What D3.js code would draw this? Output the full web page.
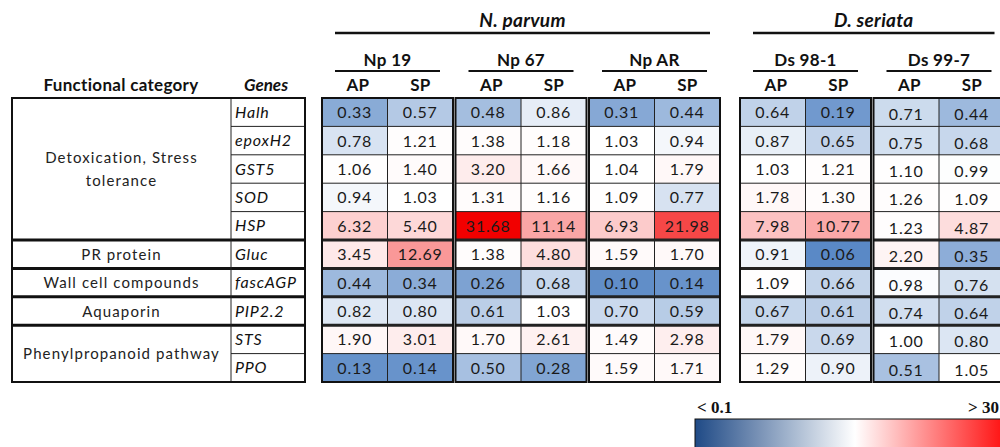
<!DOCTYPE html>
<html>
<head>
<meta charset="utf-8">
<script src="https://cdn.jsdelivr.net/npm/d3@7"></script>
<style>
  html, body { margin: 0; padding: 0; background: #fff; }
  svg { display: block; font-family: Lato, "Open Sans", sans-serif; }
</style>
</head>
<body>
<svg id="chart" width="1000" height="447"></svg>
<script>
// ---- data ----
const genes = ["Halh", "epoxH2", "GST5", "SOD", "HSP", "Gluc", "fascAGP", "PIP2.2", "STS", "PPO"];
const categoryNames = ["Detoxication, Stress|tolerance", "PR protein", "Wall cell compounds", "Aquaporin", "Phenylpropanoid pathway"];
const categorySizes = [5, 1, 1, 1, 2];
const speciesNames = ["N. parvum", "D. seriata"];
const strains = ["Np 19", "Np 67", "Np AR", "Ds 98-1", "Ds 99-7"];
const strainSpecies = [0, 0, 0, 1, 1];
const conditions = ["AP", "SP"];

// relative expression, one array per strain x condition (rows follow `genes`)
const np19AP  = [0.33, 0.78, 1.06, 0.94, 6.32, 3.45, 0.44, 0.82, 1.90, 0.13];
const np19SP  = [0.57, 1.21, 1.40, 1.03, 5.40, 12.69, 0.34, 0.80, 3.01, 0.14];
const np67AP  = [0.48, 1.38, 3.20, 1.31, 31.68, 1.38, 0.26, 0.61, 1.70, 0.50];
const np67SP  = [0.86, 1.18, 1.66, 1.16, 11.14, 4.80, 0.68, 1.03, 2.61, 0.28];
const npARAP  = [0.31, 1.03, 1.04, 1.09, 6.93, 1.59, 0.10, 0.70, 1.49, 1.59];
const npARSP  = [0.44, 0.94, 1.79, 0.77, 21.98, 1.70, 0.14, 0.59, 2.98, 1.71];
const ds981AP = [0.64, 0.87, 1.03, 1.78, 7.98, 0.91, 1.09, 0.67, 1.79, 1.29];
const ds981SP = [0.19, 0.65, 1.21, 1.30, 10.77, 0.06, 0.66, 0.61, 0.69, 0.90];
const ds997AP = [0.71, 0.75, 1.10, 1.26, 1.23, 2.20, 0.98, 0.74, 1.00, 0.51];
const ds997SP = [0.44, 0.68, 0.99, 1.09, 4.87, 0.35, 0.76, 0.64, 0.80, 1.05];
const seriesValues = [[np19AP, np19SP], [np67AP, np67SP], [npARAP, npARSP], [ds981AP, ds981SP], [ds997AP, ds997SP]];

const legendLow = "< 0.1";
const legendHigh = "> 30";

// ---- layout ----
const svg = d3.select("#chart");
const tableTop = 98, tableBottom = 382;
const leftX0 = 12, geneX = 231, leftX1 = 305;
const heatX0 = 322, colW = 65.5, blockGap = 2.5, speciesGap = 20;
const blockW = 2 * colW;

const y = d3.scaleBand().domain(genes).range([tableTop, tableBottom]);
const strainLeft = d3.scaleOrdinal()
  .domain(strains)
  .range(strains.map((s, i) => heatX0 + i * (blockW + blockGap) + (strainSpecies[i] === 1 ? speciesGap - blockGap : 0)));
const xCond = d3.scaleBand().domain(conditions).range([0, blockW]);

const color = d3.scaleLinear()
  .domain([0.06, 1, 30])
  .range(["#5a89c6", "#ffffff", "#f20000"])
  .clamp(true);

// group boundaries (row index where a new category starts)
const groupStarts = [];
categorySizes.reduce((acc, n) => { groupStarts.push(acc); return acc + n; }, 0);

// ---- headers ----
const hdr = svg.append("g").attr("fill", "#111").attr("font-weight", "bold");

speciesNames.forEach((sp, si) => {
  const idx = strains.map((s, i) => i).filter(i => strainSpecies[i] === si);
  const x0 = strainLeft(strains[idx[0]]) + 13;
  const x1 = strainLeft(strains[idx[idx.length - 1]]) + blockW - 10;
  hdr.append("text").attr("x", (x0 + x1) / 2).attr("y", 27)
    .attr("text-anchor", "middle").attr("font-size", 19).attr("font-style", "italic")
    .attr("letter-spacing", 0.3)
    .text(sp);
  hdr.append("line").attr("x1", x0).attr("x2", x1).attr("y1", 33).attr("y2", 33)
    .attr("stroke", "#111").attr("stroke-width", 2.5);
});

strains.forEach(s => {
  const x0 = strainLeft(s);
  hdr.append("text").attr("x", x0 + blockW / 2).attr("y", 66)
    .attr("text-anchor", "middle").attr("font-size", 17).attr("letter-spacing", 0.3).text(s);
  hdr.append("line").attr("x1", x0 + 13).attr("x2", x0 + blockW - 13).attr("y1", 71).attr("y2", 71)
    .attr("stroke", "#111").attr("stroke-width", 2);
  conditions.forEach(c => {
    hdr.append("text").attr("x", x0 + xCond(c) + xCond.bandwidth() / 2 + (c === "AP" ? 3 : 0)).attr("y", 91)
      .attr("text-anchor", "middle").attr("font-size", 17).text(c);
  });
});

hdr.append("text").attr("x", 121).attr("y", 91)
  .attr("text-anchor", "middle").attr("font-size", 17).attr("letter-spacing", 0.3).text("Functional category");
hdr.append("text").attr("x", 266).attr("y", 91)
  .attr("text-anchor", "middle").attr("font-size", 17).attr("font-style", "italic").text("Genes");

// ---- left table ----
const left = svg.append("g");
// gene labels
left.selectAll("text.gene").data(genes).join("text")
  .attr("class", "gene")
  .attr("x", geneX + 4)
  .attr("y", d => y(d) + y.bandwidth() / 2 + 5.5)
  .attr("font-size", 16).attr("font-style", "italic").attr("letter-spacing", 0.8).attr("fill", "#111")
  .text(d => d);
// thin lines between genes (gene column only)
left.selectAll("line.gl").data(genes.slice(1)).join("line")
  .attr("x1", geneX).attr("x2", leftX1)
  .attr("y1", d => y(d)).attr("y2", d => y(d))
  .attr("stroke", "#222").attr("stroke-width", 1);
// thick group separators across the whole table
left.selectAll("line.grp").data(groupStarts.slice(1)).join("line")
  .attr("x1", leftX0).attr("x2", leftX1)
  .attr("y1", d => y(genes[d])).attr("y2", d => y(genes[d]))
  .attr("stroke", "#111").attr("stroke-width", 3);
// category labels
categoryNames.forEach((name, i) => {
  const start = groupStarts[i];
  const top = y(genes[start]);
  const bottom = y(genes[start + categorySizes[i] - 1]) + y.bandwidth();
  const lines = name.split("|");
  const mid = (top + bottom) / 2;
  lines.forEach((ln, li) => {
    left.append("text")
      .attr("x", (leftX0 + geneX) / 2)
      .attr("y", mid + (li - (lines.length - 1) / 2) * 23 + 5.5)
      .attr("text-anchor", "middle").attr("font-size", 15).attr("letter-spacing", 1.1)
      .attr("fill", "#222").text(ln);
  });
});
left.append("line").attr("x1", geneX).attr("x2", geneX).attr("y1", tableTop).attr("y2", tableBottom)
  .attr("stroke", "#222").attr("stroke-width", 1);
left.append("rect").attr("x", leftX0).attr("y", tableTop)
  .attr("width", leftX1 - leftX0).attr("height", tableBottom - tableTop)
  .attr("fill", "none").attr("stroke", "#111").attr("stroke-width", 2);

// ---- heatmap blocks ----
strains.forEach((s, si) => {
  const g = svg.append("g").attr("transform", `translate(${strainLeft(s)},0)`);
  const cells = [];
  conditions.forEach((c, ci) => {
    seriesValues[si][ci].forEach((v, ri) => cells.push({ c, gene: genes[ri], v }));
  });
  g.selectAll("rect.cell").data(cells).join("rect")
    .attr("class", "cell")
    .attr("x", d => xCond(d.c)).attr("y", d => y(d.gene))
    .attr("width", xCond.bandwidth()).attr("height", y.bandwidth())
    .attr("fill", d => color(d.v));
  const dy = si === 4 ? 2 : 0;
  g.selectAll("text.val").data(cells).join("text")
    .attr("class", "val")
    .attr("x", d => xCond(d.c) + xCond.bandwidth() / 2)
    .attr("y", d => y(d.gene) + y.bandwidth() / 2 + 6 + dy)
    .attr("text-anchor", "middle").attr("font-size", 16).attr("letter-spacing", 0.8)
    .attr("fill", "#1a1a1a")
    .text(d => d3.format(".2f")(d.v));
  // row lines
  g.selectAll("line.row").data(genes.slice(1)).join("line")
    .attr("x1", 0).attr("x2", blockW)
    .attr("y1", d => y(d)).attr("y2", d => y(d))
    .attr("stroke", "#222")
    .attr("stroke-width", d => groupStarts.includes(genes.indexOf(d)) ? 3 : 1);
  g.append("line").attr("x1", xCond("SP")).attr("x2", xCond("SP"))
    .attr("y1", tableTop).attr("y2", tableBottom).attr("stroke", "#222").attr("stroke-width", 1);
  g.append("rect").attr("x", 0).attr("y", tableTop).attr("width", blockW).attr("height", tableBottom - tableTop)
    .attr("fill", "none").attr("stroke", "#111").attr("stroke-width", 2);
});

// ---- legend ----
const legendX = 695, legendY = 419, legendW = 320, legendH = 32;
const legendColor = d3.scaleLinear().domain([0, 0.5, 1]).range(["#1f4a86", "#ffffff", "#ff0000"]);
const grad = svg.append("defs").append("linearGradient").attr("id", "legendGrad")
  .attr("x1", "0%").attr("x2", "100%").attr("y1", "0%").attr("y2", "0%");
d3.range(0, 1.0001, 0.1).forEach(t => {
  grad.append("stop").attr("offset", `${t * 100}%`).attr("stop-color", legendColor(t));
});
svg.append("rect").attr("x", legendX).attr("y", legendY).attr("width", legendW).attr("height", legendH)
  .attr("fill", "url(#legendGrad)").attr("stroke", "#111").attr("stroke-width", 1);
svg.append("text").attr("x", legendX + 2).attr("y", legendY - 6)
  .attr("font-family", "'Liberation Serif', 'DejaVu Serif', serif").attr("font-weight", "bold")
  .attr("font-size", 17).attr("fill", "#111").text(legendLow);
svg.append("text").attr("x", 999).attr("y", legendY - 6).attr("text-anchor", "end")
  .attr("font-family", "'Liberation Serif', 'DejaVu Serif', serif").attr("font-weight", "bold")
  .attr("font-size", 17).attr("fill", "#111").text(legendHigh);
</script>
</body>
</html>
